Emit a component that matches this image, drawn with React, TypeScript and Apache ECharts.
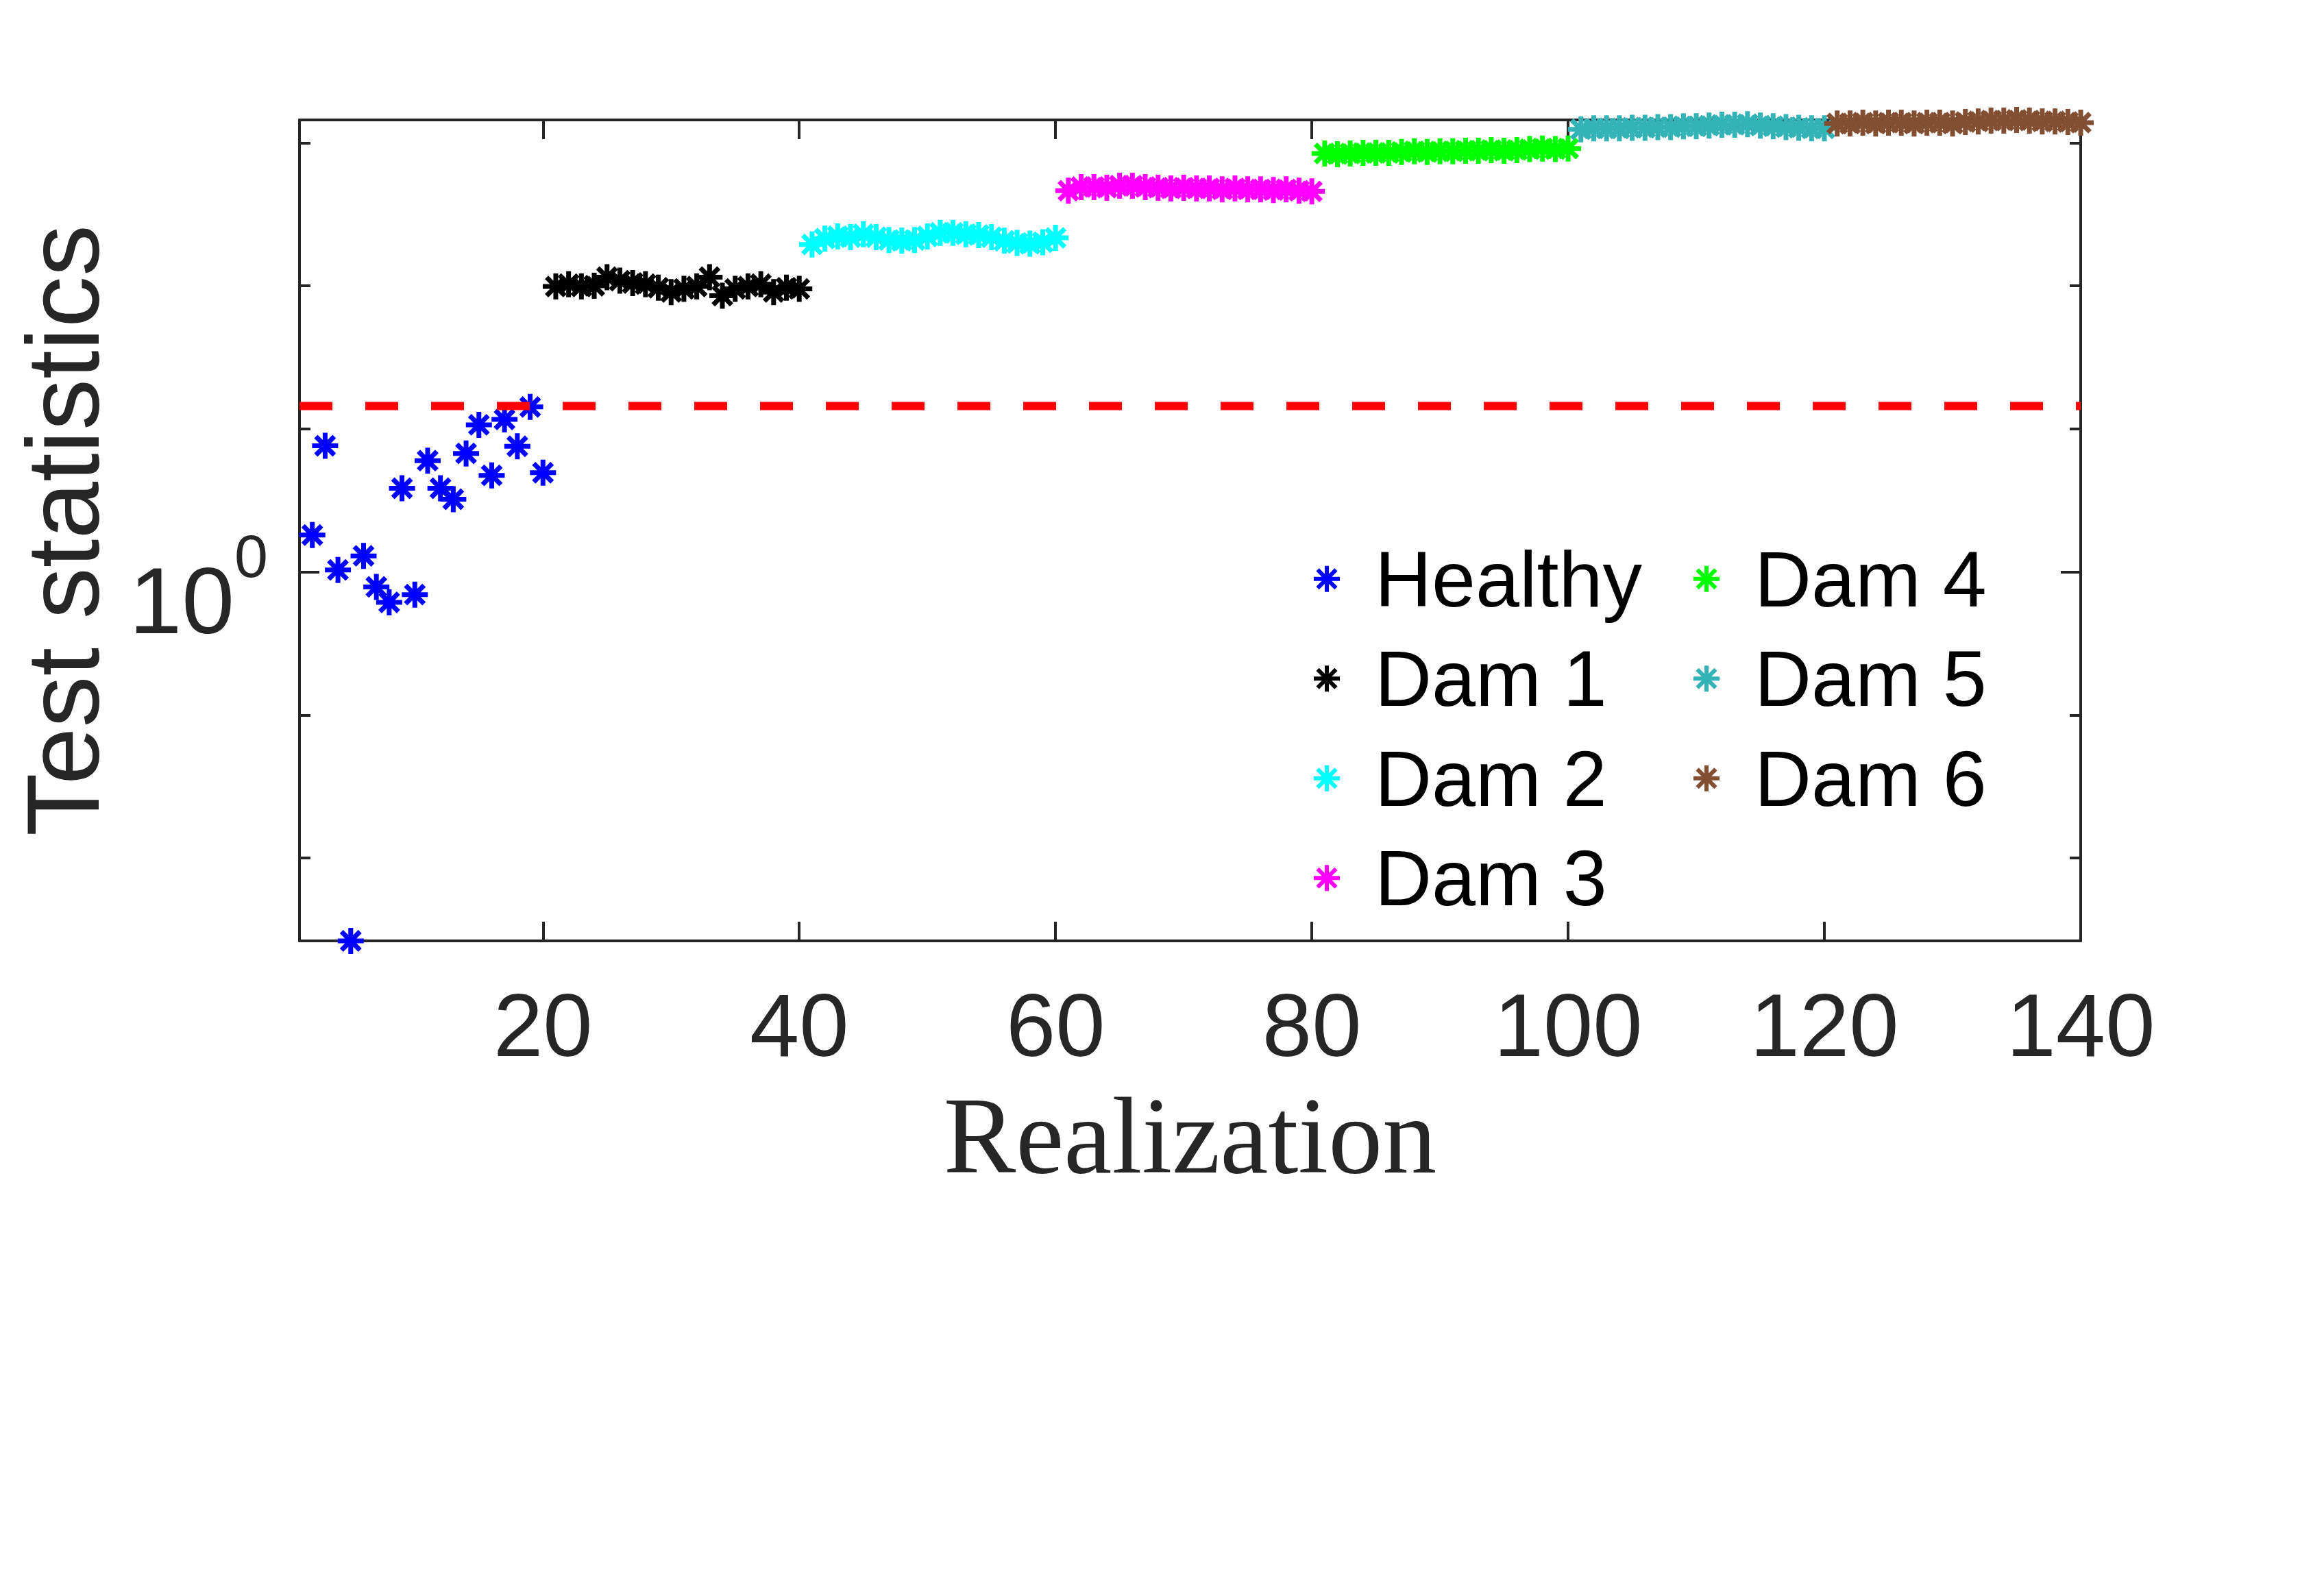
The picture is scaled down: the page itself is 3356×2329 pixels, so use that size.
import React, { useEffect, useRef } from "react";
import * as echarts from "echarts";

// ---------------- data ----------------
const seriesNames = ["Healthy", "Dam 1", "Dam 2", "Dam 3", "Dam 4", "Dam 5", "Dam 6"];
const seriesColors = ["#0000FF", "#000000", "#00FFFF", "#FF00FF", "#00FF00", "#33B3B5", "#824F33"];
// first realization index of every group
const groupStarts = [2, 21, 41, 61, 81, 101, 121];

const healthy = [1.061, 1.225, 1.003, 0.552, 1.026, 0.976, 0.952, 1.144, 0.964, 1.196, 1.144, 1.124, 1.210, 1.267, 1.168, 1.278, 1.224, 1.304, 1.173];
const dam1 = [1.583, 1.589, 1.583, 1.585, 1.607, 1.598, 1.592, 1.589, 1.580, 1.569, 1.577, 1.583, 1.607, 1.560, 1.577, 1.583, 1.589, 1.569, 1.580, 1.577];
const dam2 = [1.694, 1.710, 1.716, 1.714, 1.722, 1.714, 1.706, 1.704, 1.706, 1.716, 1.726, 1.726, 1.722, 1.720, 1.714, 1.704, 1.698, 1.696, 1.700, 1.712];
const dam3 = [1.847, 1.858, 1.858, 1.856, 1.862, 1.862, 1.858, 1.856, 1.854, 1.856, 1.854, 1.854, 1.851, 1.854, 1.851, 1.851, 1.849, 1.851, 1.847, 1.845];
const dam4 = [1.961, 1.959, 1.961, 1.963, 1.963, 1.963, 1.966, 1.968, 1.966, 1.968, 1.968, 1.970, 1.970, 1.972, 1.970, 1.972, 1.975, 1.977, 1.975, 1.977];
const dam5 = [2.039, 2.042, 2.042, 2.042, 2.044, 2.044, 2.046, 2.046, 2.049, 2.049, 2.051, 2.054, 2.054, 2.056, 2.051, 2.049, 2.046, 2.044, 2.042, 2.042];
const dam6 = [2.058, 2.058, 2.061, 2.058, 2.061, 2.061, 2.058, 2.061, 2.061, 2.058, 2.063, 2.065, 2.068, 2.068, 2.070, 2.068, 2.065, 2.065, 2.063, 2.061];
const groupValues = [healthy, dam1, dam2, dam3, dam4, dam5, dam6];

const threshold = 1.306;

const xLimits = [1, 140];
const yLimits = [0.552, 2.07];
const xTicks = [20, 40, 60, 80, 100, 120, 140];
const yMajorTicks = [1];
const yMinorTicks = [0.631, 0.794, 1.259, 1.585, 1.995];

// ---------------- style ----------------
const AXIS = "#262626";
const SANS = "'Liberation Sans', Arial, Helvetica, sans-serif";
const SERIF = "'Liberation Serif', 'Times New Roman', serif";
const ASTERISK =
  "path://M0,-10L0,10M-10,0L10,0M-7.07,-7.07L7.07,7.07M-7.07,7.07L7.07,-7.07";

const lg = (v: number) => Math.log10(v);

function buildOption() {
  const yMin = lg(yLimits[0]);
  const yMax = lg(yLimits[1]);

  const scatterSeries = seriesNames.map((name, gi) => ({
    name,
    type: "scatter",
    xAxisIndex: 0,
    yAxisIndex: 0,
    symbol: ASTERISK,
    symbolSize: 38,
    data: groupValues[gi].map((v, i) => [groupStarts[gi] + i, lg(v)]),
    itemStyle: {
      color: seriesColors[gi],
      borderColor: seriesColors[gi],
      borderWidth: 7,
      opacity: 1,
    },
    emphasis: { disabled: true },
    z: 3,
  }));

  const lineSeries = {
    name: "threshold",
    type: "line",
    xAxisIndex: 0,
    yAxisIndex: 0,
    symbol: "none",
    data: [
      [xLimits[0], lg(threshold)],
      [xLimits[1], lg(threshold)],
    ],
    lineStyle: { color: "#FF0000", width: 12, type: [48, 48], cap: "butt" },
    emphasis: { disabled: true },
    z: 4,
  };

  const baseY = {
    type: "value",
    min: yMin,
    max: yMax,
    splitLine: { show: false },
    axisLabel: { show: false },
  };

  const legendBase = {
    orient: "vertical",
    itemWidth: 130,
    itemHeight: 38,
    itemGap: 0,
    selectedMode: false,
    padding: 0,
    itemStyle: { borderWidth: 6 },
    textStyle: { fontSize: 115, lineHeight: 145.5, color: "#000000", fontFamily: SANS },
  };

  return {
    animation: false,
    backgroundColor: "#ffffff",
    grid: { left: 437, top: 175, width: 2599, height: 1198, containLabel: false },
    legend: [
      { ...legendBase, data: seriesNames.slice(0, 4), left: 1914, top: 772 },
      { ...legendBase, data: seriesNames.slice(4), left: 2468, top: 772 },
    ],
    xAxis: [
      {
        type: "value",
        position: "bottom",
        min: xLimits[0],
        max: xLimits[1],
        splitLine: { show: false },
        axisLine: { show: true, onZero: false, lineStyle: { color: AXIS, width: 4 } },
        axisTick: {
          show: true,
          inside: true,
          length: 28,
          customValues: xTicks,
          lineStyle: { color: AXIS, width: 4 },
        },
        axisLabel: {
          show: true,
          customValues: xTicks,
          margin: 58,
          fontSize: 130,
          lineHeight: 130,
          color: AXIS,
          fontFamily: SANS,
        },
        name: "Realization",
        nameLocation: "middle",
        nameGap: 205,
        nameTextStyle: { fontSize: 158, lineHeight: 158, color: AXIS, fontFamily: SERIF },
      },
      {
        type: "value",
        position: "top",
        min: xLimits[0],
        max: xLimits[1],
        splitLine: { show: false },
        axisLine: { show: true, onZero: false, lineStyle: { color: AXIS, width: 4 } },
        axisTick: {
          show: true,
          inside: true,
          length: 28,
          customValues: xTicks,
          lineStyle: { color: AXIS, width: 4 },
        },
        axisLabel: { show: false },
      },
    ],
    yAxis: [
      {
        ...baseY,
        position: "left",
        axisLine: { show: true, onZero: false, lineStyle: { color: AXIS, width: 4 } },
        axisTick: {
          show: true,
          inside: true,
          length: 29,
          customValues: yMajorTicks.map(lg),
          lineStyle: { color: AXIS, width: 4 },
        },
        axisLabel: {
          show: true,
          customValues: yMajorTicks.map(lg),
          margin: 46,
          padding: [44, 0, 0, 0],
          formatter: () => "{b|10}{s|0}",
          rich: {
            b: {
              fontSize: 138,
              lineHeight: 178,
              verticalAlign: "bottom",
              color: AXIS,
              fontFamily: SANS,
            },
            s: {
              fontSize: 88,
              lineHeight: 24,
              verticalAlign: "top",
              color: AXIS,
              fontFamily: SANS,
            },
          },
        },
        name: "Test statistics",
        nameLocation: "middle",
        nameRotate: 90,
        nameGap: 270,
        nameTextStyle: { fontSize: 150, lineHeight: 150, color: AXIS, fontFamily: SANS },
      },
      {
        ...baseY,
        position: "left",
        axisLine: { show: false, onZero: false },
        axisTick: {
          show: true,
          inside: true,
          length: 16,
          customValues: yMinorTicks.map(lg),
          lineStyle: { color: AXIS, width: 4 },
        },
      },
      {
        ...baseY,
        position: "right",
        axisLine: { show: true, onZero: false, lineStyle: { color: AXIS, width: 4 } },
        axisTick: {
          show: true,
          inside: true,
          length: 29,
          customValues: yMajorTicks.map(lg),
          lineStyle: { color: AXIS, width: 4 },
        },
      },
      {
        ...baseY,
        position: "right",
        axisLine: { show: false, onZero: false },
        axisTick: {
          show: true,
          inside: true,
          length: 16,
          customValues: yMinorTicks.map(lg),
          lineStyle: { color: AXIS, width: 4 },
        },
      },
    ],
    series: [lineSeries, ...scatterSeries],
  };
}

export default function App() {
  const ref = useRef<HTMLDivElement>(null);

  useEffect(() => {
    document.body.style.margin = "0";
    if (!ref.current) return;
    const chart = echarts.init(ref.current, undefined, { renderer: "svg" });
    chart.setOption(buildOption() as any);
    return () => {
      chart.dispose();
    };
  }, []);

  return <div ref={ref} style={{ width: 3356, height: 2329, background: "#fff" }} />;
}
